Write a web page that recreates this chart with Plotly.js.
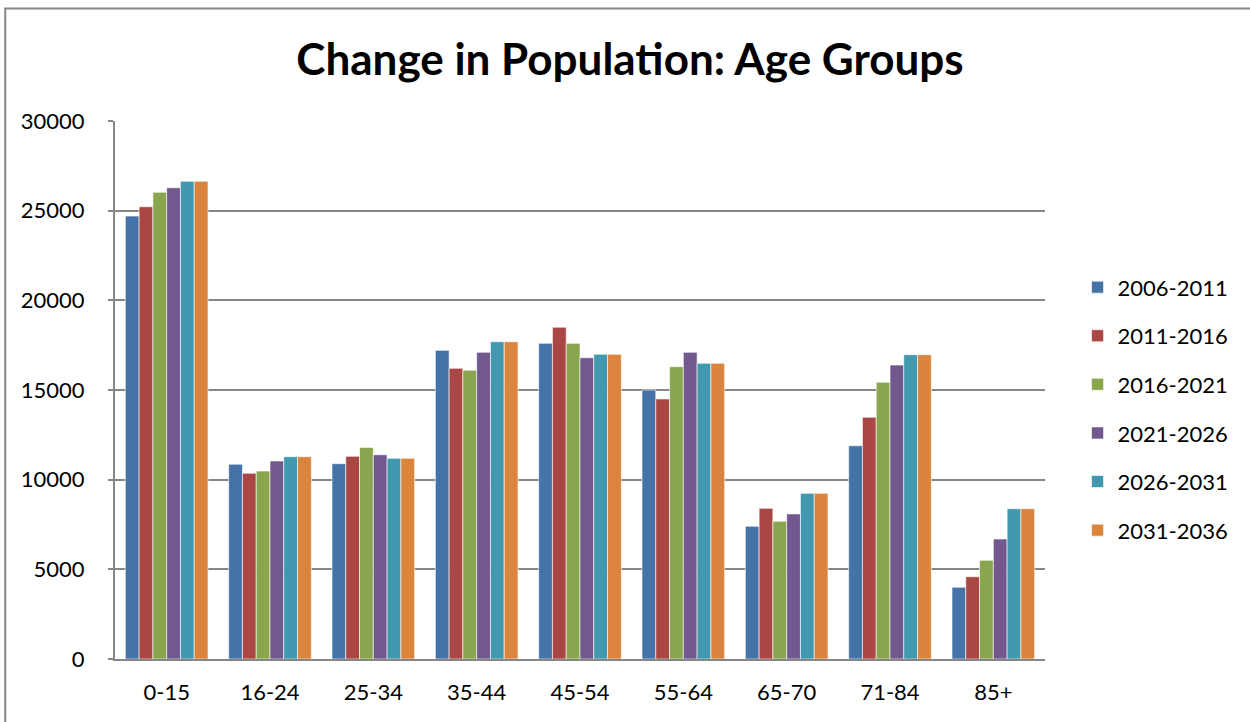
<!DOCTYPE html>
<html><head><meta charset="utf-8">
<script src="https://cdn.plot.ly/plotly-3.0.1.min.js"></script>
<style>body{margin:0;padding:0;background:#fff}#c{width:1250px;height:722px}</style>
</head><body><div id="c"></div>
<script>
const categories = ["0-15","16-24","25-34","35-44","45-54","55-64","65-70","71-84","85+"];
const seriesNames = ["2006-2011","2011-2016","2016-2021","2021-2026","2026-2031","2031-2036"];
const s2006_2011 = [24700,10860,10890,17210,17600,15000,7400,11890,4000];
const s2011_2016 = [25220,10360,11300,16210,18500,14500,8400,13480,4590];
const s2016_2021 = [26020,10480,11800,16100,17600,16300,7680,15430,5500];
const s2021_2026 = [26280,11040,11390,17100,16800,17100,8090,16390,6690];
const s2026_2031 = [26640,11280,11190,17690,16990,16490,9240,16970,8380];
const s2031_2036 = [26640,11280,11190,17690,16990,16490,9240,16970,8380];
const seriesValues = [s2006_2011,s2011_2016,s2016_2021,s2021_2026,s2026_2031,s2031_2036];
const colors = ["#4572A7","#AA4643","#89A54E","#71588F","#4198AF","#DB843D"];

const FONT = "Lato, 'Open Sans', sans-serif";
const traces = seriesNames.map((n,i)=>({
  type:'bar', name:n, x:categories, y:seriesValues[i],
  legendgroup:'g'+i,
  marker:{color:colors[i], line:{color:'rgba(255,255,255,0.6)', width:1}}
}));

const layout = {
  width:1250, height:722,
  margin:{l:115, r:205, t:121, b:63},
  paper_bgcolor:'#fff', plot_bgcolor:'#fff',
  font:{family:FONT, color:'#000', size:22},
  title:{text:'<b>Change in Population: Age Groups</b>', font:{family:FONT, size:44, color:'#000'},
         x:0.504, xanchor:'center', y:0.917, yanchor:'middle'},
  barmode:'group', bargap:0.2, bargroupgap:0,
  xaxis:{type:'category', showline:true, linecolor:'#868686', linewidth:2, ticks:'', 
         tickfont:{family:FONT, size:22}, ticklabelstandoff:13, showgrid:false, zeroline:false},
  yaxis:{range:[0,30000], dtick:5000, showline:true, linecolor:'#868686', linewidth:2,
         ticks:'outside', ticklen:5, tickcolor:'#868686', tickwidth:2,
         gridcolor:'#868686', gridwidth:2, zeroline:false, tickformat:'d',
         tickfont:{family:FONT, size:22}, ticklabelstandoff:19},
  showlegend:true,
  legend:{x:1.035, xanchor:'left', y:0.465, yanchor:'middle', tracegroupgap:17,
          font:{family:FONT, size:22}, itemwidth:30, bgcolor:'rgba(0,0,0,0)'},
  shapes:[{type:'rect', xref:'paper', yref:'paper', x0:-0.118, x1:1.6, y0:-0.5, y1:1.209,
           line:{color:'#868686', width:2}, fillcolor:'rgba(0,0,0,0)', layer:'below'}]
};
Plotly.newPlot('c', traces, layout, {displayModeBar:false, staticPlot:true});
</script></body></html>
